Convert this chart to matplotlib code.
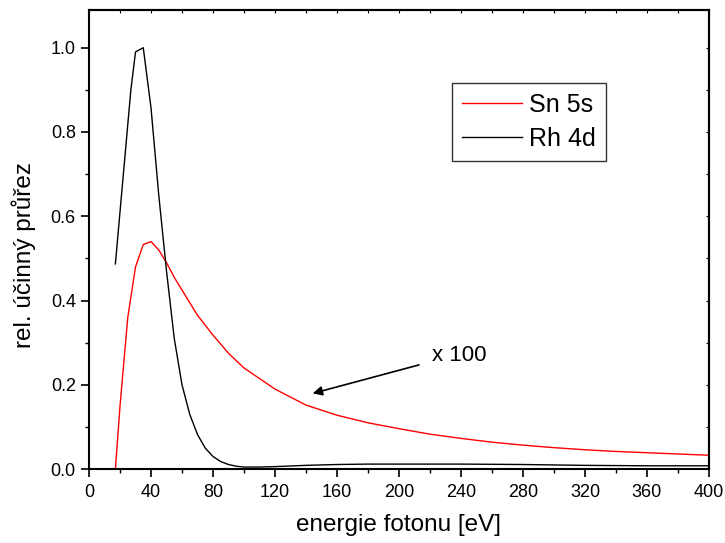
import matplotlib
matplotlib.use('Agg')
import matplotlib.pyplot as plt
from matplotlib.ticker import MultipleLocator

# Sn 5s (x100), red curve
sn_e = [17, 20, 25, 30, 35, 40, 45, 50, 55, 60, 70, 80, 90, 100, 120, 140, 160,
        180, 200, 220, 240, 260, 280, 300, 320, 340, 360, 380, 400]
sn_s = [0.0, 0.15, 0.36, 0.48, 0.533, 0.54, 0.52, 0.49, 0.455, 0.425, 0.365,
        0.318, 0.275, 0.24, 0.19, 0.152, 0.128, 0.11, 0.096, 0.083, 0.073,
        0.064, 0.057, 0.051, 0.046, 0.042, 0.039, 0.036, 0.033]

# Rh 4d, black curve
rh_e = [17, 27, 30, 35, 40, 45, 50, 55, 60, 65, 70, 75, 80, 85, 90, 95, 100,
        110, 120, 140, 160, 180, 200, 240, 280, 320, 360, 400]
rh_s = [0.487, 0.9, 0.99, 1.0, 0.857, 0.65, 0.47, 0.31, 0.2, 0.13, 0.082,
        0.05, 0.03, 0.018, 0.011, 0.007, 0.005, 0.005, 0.006, 0.009, 0.011,
        0.012, 0.012, 0.012, 0.011, 0.009, 0.008, 0.008]

plt.rcParams['font.family'] = ['Liberation Sans', 'DejaVu Sans']

fig = plt.figure(figsize=(7.25, 5.43), dpi=100)
ax = fig.add_axes([0.1228, 0.136, 0.855, 0.846])

ax.plot(sn_e, sn_s, color='red', lw=1.0, label='Sn 5s')
ax.plot(rh_e, rh_s, color='black', lw=1.0, label='Rh 4d')

ax.set_xlim(0, 400)
ax.set_ylim(0, 1.09)
ax.xaxis.set_major_locator(MultipleLocator(40))
ax.xaxis.set_minor_locator(MultipleLocator(20))
ax.yaxis.set_major_locator(MultipleLocator(0.2))
ax.yaxis.set_minor_locator(MultipleLocator(0.1))
ax.yaxis.set_major_formatter(plt.FormatStrFormatter('%.1f'))

for s in ax.spines.values():
    s.set_linewidth(1.5)
ax.tick_params(which='major', direction='out', length=6, width=1.2, labelsize=13)
ax.tick_params(axis='x', which='major', pad=5)
ax.tick_params(which='minor', direction='out', length=3, width=1.0)
ax.tick_params(which='both', top=False, right=False)
sec_x = ax.secondary_xaxis('top')
sec_x.xaxis.set_major_locator(MultipleLocator(20))
sec_x.tick_params(direction='in', length=2, labeltop=False)
sec_x.spines['top'].set_linewidth(1.5)
sec_y = ax.secondary_yaxis('right')
sec_y.yaxis.set_major_locator(MultipleLocator(0.1))
sec_y.tick_params(direction='in', length=2, labelright=False)
sec_y.spines['right'].set_linewidth(1.5)

ax.set_xlabel('energie fotonu [eV]', fontsize=17.5, labelpad=9)
ax.set_ylabel('rel. účinný průřez', fontsize=17.5)
ax.yaxis.set_label_coords(-0.085, 0.467)

leg = ax.legend(loc='upper left', bbox_to_anchor=(0.585, 0.841), borderaxespad=0,
                frameon=True, fancybox=False, edgecolor='black', handlelength=2.4,
                borderpad=0.4, labelspacing=0.4, handletextpad=0.3,
                prop={'size': 18})
leg.get_frame().set_linewidth(1.0)

ax.annotate('', xy=(142.6, 0.178), xytext=(214.6, 0.249),
            arrowprops=dict(arrowstyle='-|>', color='black', lw=1.2, mutation_scale=14))
ax.text(221.5, 0.269, 'x 100', fontsize=16, va='center', ha='left')

fig.savefig('out.png', dpi=100)
